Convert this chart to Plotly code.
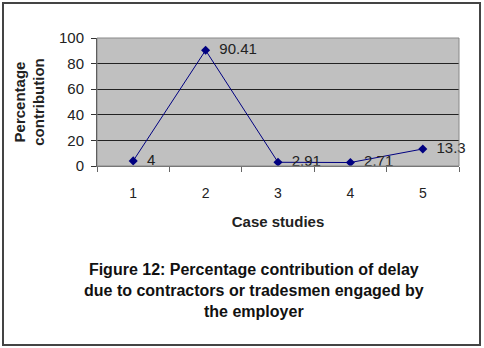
import plotly.graph_objects as go

cases = ["1", "2", "3", "4", "5"]
values = [4, 90.41, 2.91, 2.71, 13.3]
labels = ["4", "90.41", "2.91", "2.71", "13.3"]
yticks = [0, 20, 40, 60, 80, 100]

W, H = 484, 348
L, R, T, B = 97, 25, 38, 182

fig = go.Figure()
fig.add_trace(go.Scatter(
    x=cases, y=values, mode="lines+markers+text",
    line=dict(color="#000080", width=1),
    marker=dict(symbol="diamond", size=7, color="#000080"),
    text=["  " + t for t in labels], textposition="middle right",
    textfont=dict(family="Liberation Sans, Arial", size=15, color="#222222"),
    cliponaxis=False, showlegend=False,
))

fig.update_layout(
    width=W, height=H,
    margin=dict(l=L, r=R, t=T, b=B),
    paper_bgcolor="white", plot_bgcolor="#c0c0c0",
    font=dict(family="Liberation Sans, Arial", size=14, color="#222222"),
    xaxis=dict(type="category", tickson="boundaries", ticks="outside", ticklen=5,
               tickcolor="#666666", showgrid=False, showline=True, linecolor="#666666",
               mirror=False, tickfont=dict(size=14), range=[-0.5, 4.5],
               ticklabelstandoff=14,
               title=dict(text="<b>Case studies</b>", font=dict(size=15), standoff=16)),
    yaxis=dict(range=[0, 100], tickvals=yticks, ticks="outside", ticklen=5,
               tickcolor="#333333", showgrid=True, gridcolor="#222222", gridwidth=1,
               showline=True, linecolor="#333333", zeroline=False,
               tickfont=dict(size=15), ticklabelstandoff=4,
               title=dict(text="<b>Percentage<br>contribution</b>", font=dict(size=15), standoff=10)),
    shapes=[
        dict(type="rect", xref="paper", yref="paper", x0=0, x1=1, y0=0, y1=1,
             line=dict(color="#888888", width=1)),
        dict(type="rect", xref="paper", yref="paper",
             x0=-(L - 3) / (W - L - R), x1=1 + (R - 4) / (W - L - R),
             y0=-(B - 3) / (H - T - B), y1=1 + (T - 3) / (H - T - B),
             line=dict(color="#444444", width=2)),
    ],
    annotations=[dict(
        text="<b>Figure 12: Percentage contribution of delay<br>due to contractors or tradesmen engaged by<br>the employer</b>",
        xref="paper", yref="paper", x=(254 - L) / (W - L - R), y=-(270 - 166 - 11) / (H - T - B),
        xanchor="center", yanchor="top", showarrow=False,
        font=dict(size=16, color="#111111"), align="center")],
)

fig.write_html("out.html")
